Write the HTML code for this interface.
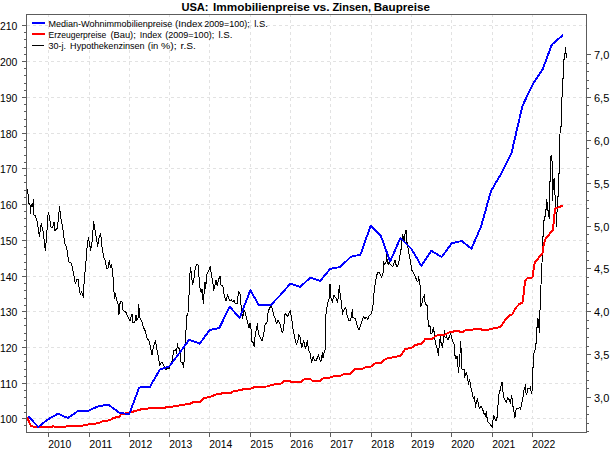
<!DOCTYPE html>
<html><head><meta charset="utf-8"><title>USA: Immobilienpreise vs. Zinsen, Baupreise</title>
<style>html,body{margin:0;padding:0;background:#fff}svg{display:block}</style></head>
<body><svg width="610" height="450" viewBox="0 0 610 450">
<rect x="0" y="0" width="610" height="450" fill="#fff"/>
<g stroke="#e2e2e2" stroke-width="1" stroke-dasharray="3,3" shape-rendering="crispEdges"><line x1="48.5" y1="14" x2="48.5" y2="432"/><line x1="89.5" y1="14" x2="89.5" y2="432"/><line x1="129.5" y1="14" x2="129.5" y2="432"/><line x1="169.5" y1="14" x2="169.5" y2="432"/><line x1="209.5" y1="14" x2="209.5" y2="432"/><line x1="250.5" y1="14" x2="250.5" y2="432"/><line x1="290.5" y1="14" x2="290.5" y2="432"/><line x1="330.5" y1="14" x2="330.5" y2="432"/><line x1="371.5" y1="14" x2="371.5" y2="432"/><line x1="411.5" y1="14" x2="411.5" y2="432"/><line x1="451.5" y1="14" x2="451.5" y2="432"/><line x1="492.5" y1="14" x2="492.5" y2="432"/><line x1="532.5" y1="14" x2="532.5" y2="432"/><line x1="27" y1="418.5" x2="586" y2="418.5"/><line x1="27" y1="383.5" x2="586" y2="383.5"/><line x1="27" y1="347.5" x2="586" y2="347.5"/><line x1="27" y1="311.5" x2="586" y2="311.5"/><line x1="27" y1="276.5" x2="586" y2="276.5"/><line x1="27" y1="240.5" x2="586" y2="240.5"/><line x1="27" y1="204.5" x2="586" y2="204.5"/><line x1="27" y1="168.5" x2="586" y2="168.5"/><line x1="27" y1="133.5" x2="586" y2="133.5"/><line x1="27" y1="97.5" x2="586" y2="97.5"/><line x1="27" y1="61.5" x2="586" y2="61.5"/><line x1="27" y1="25.5" x2="586" y2="25.5"/></g>
<path d="M27.0,189.0 L27.8,189.5 L28.0,194.0 L28.7,194.5 L29.0,203.5 L30.0,205.0 L30.5,213.5 L31.2,205.0 L32.5,204.0 L33.0,206.5 L33.5,200.0 L34.0,215.0 L35.0,215.5 L37.3,221.7 L39.3,236.3 L41.3,223.7 L43.3,232.3 L45.3,250.3 L46.7,235.7 L47.7,217.0 L48.5,213.0 L49.5,217.0 L50.7,227.0 L52.7,227.7 L54.0,221.7 L54.7,231.0 L57.3,228.3 L58.5,217.0 L59.5,207.0 L60.3,214.0 L61.0,219.0 L62.7,227.0 L64.7,243.7 L66.7,247.7 L68.7,261.7 L71.3,263.0 L73.3,272.3 L75.3,283.7 L76.7,279.7 L78.0,279.0 L79.3,289.7 L80.4,295.0 L81.3,291.7 L82.4,293.7 L83.3,297.7 L83.7,287.7 L84.7,275.0 L85.7,265.7 L86.7,250.3 L88.4,237.7 L90.7,250.3 L92.0,242.3 L93.7,221.7 L96.0,236.3 L97.7,246.3 L99.3,236.3 L100.7,233.7 L102.0,247.0 L104.0,258.3 L105.3,260.3 L106.7,269.0 L108.3,267.7 L109.3,260.3 L110.4,267.7 L111.3,264.3 L112.7,272.3 L114.0,292.3 L114.7,298.3 L115.3,293.0 L116.7,300.3 L118.3,304.3 L118.9,315.0 L120.2,301.7 L122.0,302.0 L122.7,310.0 L126.0,312.3 L128.0,317.0 L130.0,321.0 L132.0,313.7 L132.7,322.3 L134.7,322.3 L136.0,315.0 L136.7,320.3 L138.0,318.3 L138.7,304.3 L140.0,318.3 L142.0,321.7 L143.3,327.0 L145.3,331.0 L146.7,337.5 L149.2,341.0 L151.0,350.0 L152.0,355.0 L153.3,347.0 L155.4,340.5 L157.0,350.0 L158.3,356.0 L159.7,366.0 L161.0,362.7 L162.3,362.0 L163.7,365.3 L165.7,370.0 L167.0,368.0 L169.0,368.7 L170.3,365.3 L171.7,363.3 L172.7,356.7 L173.7,350.7 L175.7,349.3 L176.3,353.3 L177.6,343.5 L178.3,348.7 L179.0,348.0 L180.3,354.0 L181.0,362.0 L182.3,362.7 L183.7,367.3 L184.3,356.7 L185.0,346.0 L185.7,336.7 L186.7,316.3 L188.0,313.0 L188.7,295.7 L189.6,293.0 L190.0,273.0 L190.7,267.7 L191.3,274.3 L192.7,285.0 L194.0,277.7 L195.3,267.7 L196.7,264.0 L198.0,265.0 L199.0,277.0 L200.0,287.7 L201.3,293.0 L202.0,289.0 L203.3,303.7 L204.4,289.0 L205.0,282.3 L205.6,288.3 L207.0,273.7 L208.7,271.0 L210.4,266.3 L211.3,274.3 L212.7,281.0 L213.7,290.3 L215.3,283.7 L216.0,280.3 L217.3,285.7 L218.4,279.7 L220.0,276.3 L221.0,285.0 L222.7,285.0 L223.7,293.0 L226.0,301.0 L227.6,295.0 L229.6,301.0 L231.3,299.7 L232.7,301.7 L234.0,300.3 L235.3,303.7 L237.3,303.7 L238.0,296.3 L238.7,291.7 L240.4,295.0 L241.0,305.0 L242.0,314.3 L242.7,318.3 L244.0,309.7 L245.5,313.5 L247.7,322.3 L249.0,327.7 L250.0,323.0 L251.3,331.0 L252.0,341.7 L253.0,342.3 L254.3,346.3 L255.3,333.7 L256.3,330.3 L257.3,323.7 L258.3,333.0 L259.7,336.3 L262.3,341.0 L263.7,333.7 L265.0,325.0 L267.0,322.3 L268.3,311.0 L270.3,307.0 L271.7,306.3 L273.7,315.0 L275.0,318.3 L276.6,323.7 L278.0,319.7 L279.7,323.0 L281.7,331.0 L282.7,332.3 L283.7,327.0 L285.0,313.7 L287.7,316.3 L290.3,310.3 L291.7,319.0 L293.0,329.0 L295.0,339.0 L296.5,344.5 L298.0,340.0 L298.5,334.5 L300.0,336.5 L300.5,341.5 L302.0,347.5 L303.5,340.5 L305.5,348.5 L307.5,340.5 L308.5,350.5 L310.0,353.0 L311.5,362.5 L313.2,356.5 L314.5,360.5 L316.5,360.0 L318.5,354.5 L319.5,359.5 L321.0,361.5 L322.5,352.5 L323.0,358.0 L324.5,351.0 L325.5,349.0 L325.7,320.0 L326.0,313.7 L327.0,307.0 L328.3,300.3 L329.4,297.7 L330.0,284.3 L331.0,297.7 L332.3,302.3 L333.7,295.0 L335.0,297.0 L336.3,298.3 L337.7,303.0 L338.3,295.7 L339.4,285.0 L340.3,296.3 L341.7,303.7 L342.3,314.3 L343.7,310.3 L345.7,307.0 L347.0,315.0 L349.0,321.0 L350.3,320.3 L351.7,316.3 L352.3,309.0 L353.0,317.7 L355.0,318.3 L356.3,321.7 L357.7,327.7 L359.0,330.3 L360.3,326.3 L362.3,320.3 L363.7,316.3 L365.0,319.0 L366.3,317.0 L367.7,319.7 L369.0,316.3 L371.0,314.3 L372.3,310.3 L373.5,301.0 L373.8,295.0 L374.7,288.0 L375.5,281.5 L376.5,276.0 L377.5,273.0 L379.0,272.5 L380.5,274.5 L381.5,277.5 L382.5,274.0 L383.5,272.0 L383.5,261.5 L384.5,264.5 L386.0,262.0 L386.5,253.5 L387.2,260.5 L388.2,265.0 L389.0,262.0 L390.5,264.5 L391.5,266.0 L393.0,266.0 L394.0,263.0 L395.0,260.5 L396.0,264.5 L397.0,267.0 L398.5,264.0 L399.5,259.0 L400.5,252.0 L401.2,248.5 L401.8,242.0 L402.5,234.5 L403.5,238.5 L404.2,241.5 L404.8,236.0 L405.5,230.5 L406.2,230.5 L406.5,241.0 L407.5,244.0 L408.5,252.0 L410.0,259.0 L411.0,265.0 L412.0,270.5 L413.5,272.5 L415.0,276.0 L417.0,281.0 L418.0,281.5 L418.5,276.5 L419.5,282.0 L420.5,288.0 L420.7,306.5 L422.0,303.0 L423.0,298.0 L424.5,294.5 L425.0,302.0 L426.0,304.5 L427.5,306.0 L427.7,319.5 L428.5,321.0 L428.8,327.0 L430.0,325.5 L430.5,334.0 L432.0,333.5 L433.3,327.5 L434.0,331.5 L434.8,335.0 L435.0,340.0 L436.0,345.0 L437.5,350.0 L438.5,355.5 L439.2,346.0 L440.5,335.0 L440.7,342.0 L441.5,343.5 L442.5,348.0 L443.2,341.0 L444.0,335.0 L444.5,331.0 L445.0,337.0 L445.8,338.0 L446.5,335.0 L447.5,340.0 L448.5,339.0 L449.5,336.0 L450.5,334.0 L451.5,336.5 L452.0,339.0 L453.5,343.0 L454.5,344.5 L455.0,355.5 L456.0,358.5 L457.0,356.0 L457.8,365.0 L458.5,372.5 L459.0,367.0 L459.7,366.0 L460.0,354.0 L460.5,341.5 L461.0,348.5 L461.5,350.0 L461.8,369.0 L463.5,370.0 L464.5,369.5 L464.8,377.5 L465.5,374.0 L466.5,373.0 L467.2,375.5 L468.5,384.5 L469.5,379.5 L470.5,385.0 L471.5,390.0 L472.5,394.5 L473.5,399.0 L474.5,397.0 L475.5,407.5 L476.5,401.0 L477.5,398.5 L478.5,405.0 L479.5,409.0 L481.0,406.5 L482.5,409.0 L484.0,413.5 L485.5,416.0 L486.2,411.5 L487.0,417.5 L487.8,422.0 L489.5,423.5 L491.0,425.5 L492.2,427.5 L492.8,421.0 L493.8,415.5 L494.5,418.0 L495.5,420.0 L496.5,420.5 L497.2,416.5 L497.8,407.5 L498.5,399.0 L499.0,394.0 L500.0,390.5 L501.2,385.0 L501.8,382.0 L502.5,382.5 L502.8,389.0 L503.5,397.5 L505.0,400.0 L506.5,402.5 L507.5,397.5 L509.0,399.5 L510.5,403.0 L511.5,395.5 L512.2,399.0 L513.0,406.5 L514.0,411.5 L515.0,417.5 L516.2,409.0 L518.0,408.5 L519.5,407.5 L520.5,409.0 L521.5,405.0 L522.5,399.5 L523.5,395.0 L523.8,391.0 L524.5,387.5 L525.0,390.0 L525.5,385.0 L525.8,392.0 L526.5,394.5 L527.5,391.0 L527.8,388.0 L530.0,388.0 L530.5,387.0 L530.8,390.0 L531.5,393.5 L532.2,390.5 L532.5,383.0 L532.7,368.0 L533.5,367.0 L533.8,354.0 L534.5,351.0 L535.0,350.0 L535.5,344.0 L536.5,343.5 L536.5,328.0 L537.5,327.5 L537.5,318.0 L538.5,320.0 L539.3,332.5 L539.5,311.0 L540.5,310.5 L540.6,305.0 L541.0,285.0 L542.0,263.0 L543.0,237.0 L543.5,221.0 L544.5,220.0 L544.7,216.5 L545.5,216.0 L545.5,210.0 L546.3,209.5 L546.5,200.0 L547.2,203.0 L547.8,210.5 L548.5,211.0 L549.2,218.5 L549.5,182.0 L550.5,181.5 L550.5,157.0 L551.5,156.0 L551.7,161.0 L552.5,161.5 L552.5,200.5 L553.0,191.0 L553.5,180.0 L554.5,179.0 L554.7,190.0 L555.8,206.5 L556.5,226.5 L556.8,213.0 L557.5,210.0 L557.5,196.5 L558.5,196.0 L558.5,174.0 L559.5,173.5 L559.5,145.0 L560.3,127.0 L561.3,126.3 L561.7,97.0 L562.6,96.3 L562.5,79.0 L563.5,78.5 L563.5,60.0 L564.5,59.5 L564.5,53.0 L565.5,53.0 L565.5,47.0 L566.0,53.0 L566.5,53.0 L566.5,58.0" fill="none" stroke="#000" stroke-width="1" stroke-linejoin="round" shape-rendering="crispEdges"/>
<path d="M27.5,418.0 L30.8,425.8 L35.8,427.2 L51.7,427.0 L53.3,426.0 L55.0,427.0 L61.7,426.7 L81.7,425.8 L90.0,424.2 L98.3,423.3 L103.3,421.0 L110.0,420.3 L113.3,417.8 L119.5,417.0 L121.0,414.2 L130.0,412.5 L143.3,408.7 L161.7,408.0 L171.7,406.7 L190.0,403.7 L193.3,402.0 L200.3,402.0 L204.2,398.0 L210.8,396.7 L217.5,393.8 L230.8,392.8 L234.2,390.8 L240.8,390.3 L244.2,388.8 L250.8,388.7 L255.0,386.7 L266.7,386.5 L275.0,384.2 L280.8,383.8 L284.5,380.8 L289.2,380.8 L291.7,382.0 L300.8,382.0 L305.0,378.8 L310.0,378.8 L312.5,380.8 L320.0,380.8 L323.3,378.3 L330.0,377.5 L335.0,375.8 L340.8,375.5 L345.0,373.8 L350.0,373.7 L355.0,369.2 L362.5,368.7 L365.8,367.0 L370.8,366.7 L375.4,363.3 L380.8,362.8 L385.8,358.8 L400.8,355.8 L405.0,349.2 L411.7,347.8 L415.0,345.0 L421.7,343.7 L425.0,339.2 L432.5,338.8 L435.8,335.8 L438.5,335.0 L444.0,335.0 L449.0,332.5 L452.0,332.0 L455.0,331.0 L458.5,331.0 L460.0,332.0 L463.0,332.0 L465.5,330.2 L472.0,330.2 L474.5,328.8 L480.8,328.8 L482.5,330.0 L488.3,329.7 L490.8,328.7 L495.8,328.3 L500.8,326.7 L505.8,319.2 L509.2,315.5 L512.5,314.2 L515.0,308.7 L519.2,304.2 L522.5,302.5 L524.2,290.0 L525.0,280.8 L527.5,278.0 L532.5,277.5 L533.8,268.0 L534.7,262.5 L537.5,259.2 L542.5,253.3 L543.7,245.0 L545.3,239.2 L550.0,233.3 L553.0,230.0 L554.2,216.7 L555.3,208.3 L559.2,207.0 L562.5,205.8" fill="none" stroke="#ff0000" stroke-width="2" stroke-linejoin="round" stroke-linecap="round" shape-rendering="crispEdges"/>
<path d="M28.7,416.7 L38.3,427.0 L47.8,419.5 L58.0,413.7 L67.8,418.0 L78.3,410.8 L88.3,410.8 L98.3,406.2 L108.3,404.7 L119.5,412.8 L129.2,414.2 L139.2,387.5 L149.8,387.0 L159.8,369.7 L169.2,366.5 L179.4,353.0 L189.2,339.7 L199.7,343.7 L209.7,330.0 L219.3,328.0 L229.7,306.7 L239.7,318.0 L250.3,290.3 L258.8,305.0 L270.8,305.0 L280.1,295.3 L290.3,283.7 L300.1,287.0 L310.2,277.7 L320.2,280.8 L330.3,268.8 L340.2,267.0 L350.8,256.7 L360.4,254.7 L370.6,225.8 L380.9,235.8 L390.1,261.5 L400.4,238.0 L411.6,249.2 L421.3,265.8 L431.3,250.8 L441.7,257.0 L451.7,243.3 L461.7,241.0 L471.4,248.7 L481.0,226.7 L491.0,191.0 L501.0,174.0 L511.5,153.0 L522.4,106.0 L532.5,84.7 L542.5,69.7 L551.8,44.7 L557.5,39.7 L562.5,35.5" fill="none" stroke="#0000ff" stroke-width="1.9" stroke-linejoin="round" stroke-linecap="round" shape-rendering="crispEdges"/>

<rect x="26.5" y="14.5" width="560.0" height="418.0" fill="none" stroke="#5c5c5c" stroke-width="1" shape-rendering="crispEdges"/>
<g stroke="#5c5c5c" stroke-width="1" shape-rendering="crispEdges"><line x1="24" y1="425.5" x2="26.5" y2="425.5"/><line x1="22" y1="418.5" x2="26.5" y2="418.5"/><line x1="24" y1="412.5" x2="26.5" y2="412.5"/><line x1="24" y1="405.5" x2="26.5" y2="405.5"/><line x1="24" y1="397.5" x2="26.5" y2="397.5"/><line x1="24" y1="390.5" x2="26.5" y2="390.5"/><line x1="22" y1="383.5" x2="26.5" y2="383.5"/><line x1="24" y1="376.5" x2="26.5" y2="376.5"/><line x1="24" y1="369.5" x2="26.5" y2="369.5"/><line x1="24" y1="361.5" x2="26.5" y2="361.5"/><line x1="24" y1="354.5" x2="26.5" y2="354.5"/><line x1="22" y1="347.5" x2="26.5" y2="347.5"/><line x1="24" y1="340.5" x2="26.5" y2="340.5"/><line x1="24" y1="333.5" x2="26.5" y2="333.5"/><line x1="24" y1="325.5" x2="26.5" y2="325.5"/><line x1="24" y1="318.5" x2="26.5" y2="318.5"/><line x1="22" y1="311.5" x2="26.5" y2="311.5"/><line x1="24" y1="305.5" x2="26.5" y2="305.5"/><line x1="24" y1="298.5" x2="26.5" y2="298.5"/><line x1="24" y1="290.5" x2="26.5" y2="290.5"/><line x1="24" y1="283.5" x2="26.5" y2="283.5"/><line x1="22" y1="276.5" x2="26.5" y2="276.5"/><line x1="24" y1="269.5" x2="26.5" y2="269.5"/><line x1="24" y1="262.5" x2="26.5" y2="262.5"/><line x1="24" y1="254.5" x2="26.5" y2="254.5"/><line x1="24" y1="247.5" x2="26.5" y2="247.5"/><line x1="22" y1="240.5" x2="26.5" y2="240.5"/><line x1="24" y1="233.5" x2="26.5" y2="233.5"/><line x1="24" y1="226.5" x2="26.5" y2="226.5"/><line x1="24" y1="218.5" x2="26.5" y2="218.5"/><line x1="24" y1="211.5" x2="26.5" y2="211.5"/><line x1="22" y1="204.5" x2="26.5" y2="204.5"/><line x1="24" y1="197.5" x2="26.5" y2="197.5"/><line x1="24" y1="190.5" x2="26.5" y2="190.5"/><line x1="24" y1="182.5" x2="26.5" y2="182.5"/><line x1="24" y1="175.5" x2="26.5" y2="175.5"/><line x1="22" y1="168.5" x2="26.5" y2="168.5"/><line x1="24" y1="162.5" x2="26.5" y2="162.5"/><line x1="24" y1="155.5" x2="26.5" y2="155.5"/><line x1="24" y1="147.5" x2="26.5" y2="147.5"/><line x1="24" y1="140.5" x2="26.5" y2="140.5"/><line x1="22" y1="133.5" x2="26.5" y2="133.5"/><line x1="24" y1="126.5" x2="26.5" y2="126.5"/><line x1="24" y1="119.5" x2="26.5" y2="119.5"/><line x1="24" y1="111.5" x2="26.5" y2="111.5"/><line x1="24" y1="104.5" x2="26.5" y2="104.5"/><line x1="22" y1="97.5" x2="26.5" y2="97.5"/><line x1="24" y1="90.5" x2="26.5" y2="90.5"/><line x1="24" y1="83.5" x2="26.5" y2="83.5"/><line x1="24" y1="75.5" x2="26.5" y2="75.5"/><line x1="24" y1="68.5" x2="26.5" y2="68.5"/><line x1="22" y1="61.5" x2="26.5" y2="61.5"/><line x1="24" y1="54.5" x2="26.5" y2="54.5"/><line x1="24" y1="47.5" x2="26.5" y2="47.5"/><line x1="24" y1="39.5" x2="26.5" y2="39.5"/><line x1="24" y1="32.5" x2="26.5" y2="32.5"/><line x1="22" y1="25.5" x2="26.5" y2="25.5"/><line x1="586.5" y1="54.5" x2="591" y2="54.5"/><line x1="586.5" y1="63.5" x2="589" y2="63.5"/><line x1="586.5" y1="71.5" x2="589" y2="71.5"/><line x1="586.5" y1="80.5" x2="589" y2="80.5"/><line x1="586.5" y1="88.5" x2="589" y2="88.5"/><line x1="586.5" y1="97.5" x2="591" y2="97.5"/><line x1="586.5" y1="105.5" x2="589" y2="105.5"/><line x1="586.5" y1="114.5" x2="589" y2="114.5"/><line x1="586.5" y1="123.5" x2="589" y2="123.5"/><line x1="586.5" y1="131.5" x2="589" y2="131.5"/><line x1="586.5" y1="140.5" x2="591" y2="140.5"/><line x1="586.5" y1="148.5" x2="589" y2="148.5"/><line x1="586.5" y1="157.5" x2="589" y2="157.5"/><line x1="586.5" y1="166.5" x2="589" y2="166.5"/><line x1="586.5" y1="174.5" x2="589" y2="174.5"/><line x1="586.5" y1="183.5" x2="591" y2="183.5"/><line x1="586.5" y1="191.5" x2="589" y2="191.5"/><line x1="586.5" y1="200.5" x2="589" y2="200.5"/><line x1="586.5" y1="208.5" x2="589" y2="208.5"/><line x1="586.5" y1="217.5" x2="589" y2="217.5"/><line x1="586.5" y1="226.5" x2="591" y2="226.5"/><line x1="586.5" y1="234.5" x2="589" y2="234.5"/><line x1="586.5" y1="243.5" x2="589" y2="243.5"/><line x1="586.5" y1="251.5" x2="589" y2="251.5"/><line x1="586.5" y1="260.5" x2="589" y2="260.5"/><line x1="586.5" y1="268.5" x2="591" y2="268.5"/><line x1="586.5" y1="277.5" x2="589" y2="277.5"/><line x1="586.5" y1="286.5" x2="589" y2="286.5"/><line x1="586.5" y1="294.5" x2="589" y2="294.5"/><line x1="586.5" y1="303.5" x2="589" y2="303.5"/><line x1="586.5" y1="311.5" x2="591" y2="311.5"/><line x1="586.5" y1="320.5" x2="589" y2="320.5"/><line x1="586.5" y1="328.5" x2="589" y2="328.5"/><line x1="586.5" y1="337.5" x2="589" y2="337.5"/><line x1="586.5" y1="346.5" x2="589" y2="346.5"/><line x1="586.5" y1="354.5" x2="591" y2="354.5"/><line x1="586.5" y1="363.5" x2="589" y2="363.5"/><line x1="586.5" y1="371.5" x2="589" y2="371.5"/><line x1="586.5" y1="380.5" x2="589" y2="380.5"/><line x1="586.5" y1="388.5" x2="589" y2="388.5"/><line x1="586.5" y1="397.5" x2="591" y2="397.5"/><line x1="586.5" y1="406.5" x2="589" y2="406.5"/><line x1="586.5" y1="414.5" x2="589" y2="414.5"/><line x1="586.5" y1="423.5" x2="589" y2="423.5"/><line x1="586.5" y1="431.5" x2="589" y2="431.5"/><line x1="48.5" y1="432.5" x2="48.5" y2="437"/><line x1="89.5" y1="432.5" x2="89.5" y2="437"/><line x1="129.5" y1="432.5" x2="129.5" y2="437"/><line x1="169.5" y1="432.5" x2="169.5" y2="437"/><line x1="209.5" y1="432.5" x2="209.5" y2="437"/><line x1="250.5" y1="432.5" x2="250.5" y2="437"/><line x1="290.5" y1="432.5" x2="290.5" y2="437"/><line x1="330.5" y1="432.5" x2="330.5" y2="437"/><line x1="371.5" y1="432.5" x2="371.5" y2="437"/><line x1="411.5" y1="432.5" x2="411.5" y2="437"/><line x1="451.5" y1="432.5" x2="451.5" y2="437"/><line x1="492.5" y1="432.5" x2="492.5" y2="437"/><line x1="532.5" y1="432.5" x2="532.5" y2="437"/></g>
<g font-family="'Liberation Sans', sans-serif" font-size="11px" fill="#000"><text x="0" y="423.0" textLength="17.4" lengthAdjust="spacingAndGlyphs">100</text><text x="0" y="388.0" textLength="17.4" lengthAdjust="spacingAndGlyphs">110</text><text x="0" y="352.0" textLength="17.4" lengthAdjust="spacingAndGlyphs">120</text><text x="0" y="316.0" textLength="17.4" lengthAdjust="spacingAndGlyphs">130</text><text x="0" y="281.0" textLength="17.4" lengthAdjust="spacingAndGlyphs">140</text><text x="0" y="245.0" textLength="17.4" lengthAdjust="spacingAndGlyphs">150</text><text x="0" y="209.0" textLength="17.4" lengthAdjust="spacingAndGlyphs">160</text><text x="0" y="173.0" textLength="17.4" lengthAdjust="spacingAndGlyphs">170</text><text x="0" y="138.0" textLength="17.4" lengthAdjust="spacingAndGlyphs">180</text><text x="0" y="102.0" textLength="17.4" lengthAdjust="spacingAndGlyphs">190</text><text x="0" y="66.0" textLength="17.4" lengthAdjust="spacingAndGlyphs">200</text><text x="0" y="30.0" textLength="17.4" lengthAdjust="spacingAndGlyphs">210</text><text x="594" y="402.0">3,0</text><text x="594" y="359.0">3,5</text><text x="594" y="316.0">4,0</text><text x="594" y="273.0">4,5</text><text x="594" y="231.0">5,0</text><text x="594" y="188.0">5,5</text><text x="594" y="145.0">6,0</text><text x="594" y="102.0">6,5</text><text x="594" y="59.0">7,0</text><text x="48.3" y="448" textLength="23" lengthAdjust="spacingAndGlyphs">2010</text><text x="89.3" y="448" textLength="23" lengthAdjust="spacingAndGlyphs">2011</text><text x="129.3" y="448" textLength="23" lengthAdjust="spacingAndGlyphs">2012</text><text x="169.3" y="448" textLength="23" lengthAdjust="spacingAndGlyphs">2013</text><text x="209.3" y="448" textLength="23" lengthAdjust="spacingAndGlyphs">2014</text><text x="250.3" y="448" textLength="23" lengthAdjust="spacingAndGlyphs">2015</text><text x="290.3" y="448" textLength="23" lengthAdjust="spacingAndGlyphs">2016</text><text x="330.3" y="448" textLength="23" lengthAdjust="spacingAndGlyphs">2017</text><text x="371.3" y="448" textLength="23" lengthAdjust="spacingAndGlyphs">2018</text><text x="411.3" y="448" textLength="23" lengthAdjust="spacingAndGlyphs">2019</text><text x="451.3" y="448" textLength="23" lengthAdjust="spacingAndGlyphs">2020</text><text x="492.3" y="448" textLength="23" lengthAdjust="spacingAndGlyphs">2021</text><text x="532.3" y="448" textLength="23" lengthAdjust="spacingAndGlyphs">2022</text></g>
<line x1="32" y1="23" x2="45" y2="23" stroke="#0000ff" stroke-width="2" shape-rendering="crispEdges"/><line x1="32" y1="34" x2="45" y2="34" stroke="#ff0000" stroke-width="2" shape-rendering="crispEdges"/><line x1="32" y1="45.5" x2="44" y2="45.5" stroke="#000" stroke-width="1" shape-rendering="crispEdges"/><g font-family="'Liberation Sans', sans-serif" font-size="9.8px" fill="#000"><text x="48.5" y="27" textLength="123.8" lengthAdjust="spacingAndGlyphs">Median-Wohnimmobilienpreise</text><text x="175.1" y="27" textLength="27.3" lengthAdjust="spacingAndGlyphs">(Index</text><text x="204.2" y="27" textLength="45.5" lengthAdjust="spacingAndGlyphs">2009=100);</text><text x="254.2" y="27" textLength="13.7" lengthAdjust="spacingAndGlyphs">l.S.</text><text x="48.5" y="38" textLength="57.8" lengthAdjust="spacingAndGlyphs">Erzeugerpreise</text><text x="110.4" y="38" textLength="25.4" lengthAdjust="spacingAndGlyphs">(Bau);</text><text x="139.7" y="38" textLength="22.1" lengthAdjust="spacingAndGlyphs">Index</text><text x="165.2" y="38" textLength="49.0" lengthAdjust="spacingAndGlyphs">(2009=100);</text><text x="218.4" y="38" textLength="14.1" lengthAdjust="spacingAndGlyphs">l.S.</text><text x="48.5" y="49" textLength="17.5" lengthAdjust="spacingAndGlyphs">30-j.</text><text x="70.1" y="49" textLength="74.5" lengthAdjust="spacingAndGlyphs">Hypothekenzinsen</text><text x="147.8" y="49" textLength="10.5" lengthAdjust="spacingAndGlyphs">(in</text><text x="161.0" y="49" textLength="15.6" lengthAdjust="spacingAndGlyphs">%);</text><text x="180.6" y="49" textLength="15.3" lengthAdjust="spacingAndGlyphs">r.S.</text></g>
<g font-family="'Liberation Sans', sans-serif" font-size="11.2px" font-weight="bold" fill="#000"><text x="181.4" y="11" textLength="27.2" lengthAdjust="spacingAndGlyphs">USA:</text><text x="213.1" y="11" textLength="96.8" lengthAdjust="spacingAndGlyphs">Immobilienpreise</text><text x="312.9" y="11" textLength="16.8" lengthAdjust="spacingAndGlyphs">vs.</text><text x="332.4" y="11" textLength="38.6" lengthAdjust="spacingAndGlyphs">Zinsen,</text><text x="373.7" y="11" textLength="56.2" lengthAdjust="spacingAndGlyphs">Baupreise</text></g>
</svg></body></html>
